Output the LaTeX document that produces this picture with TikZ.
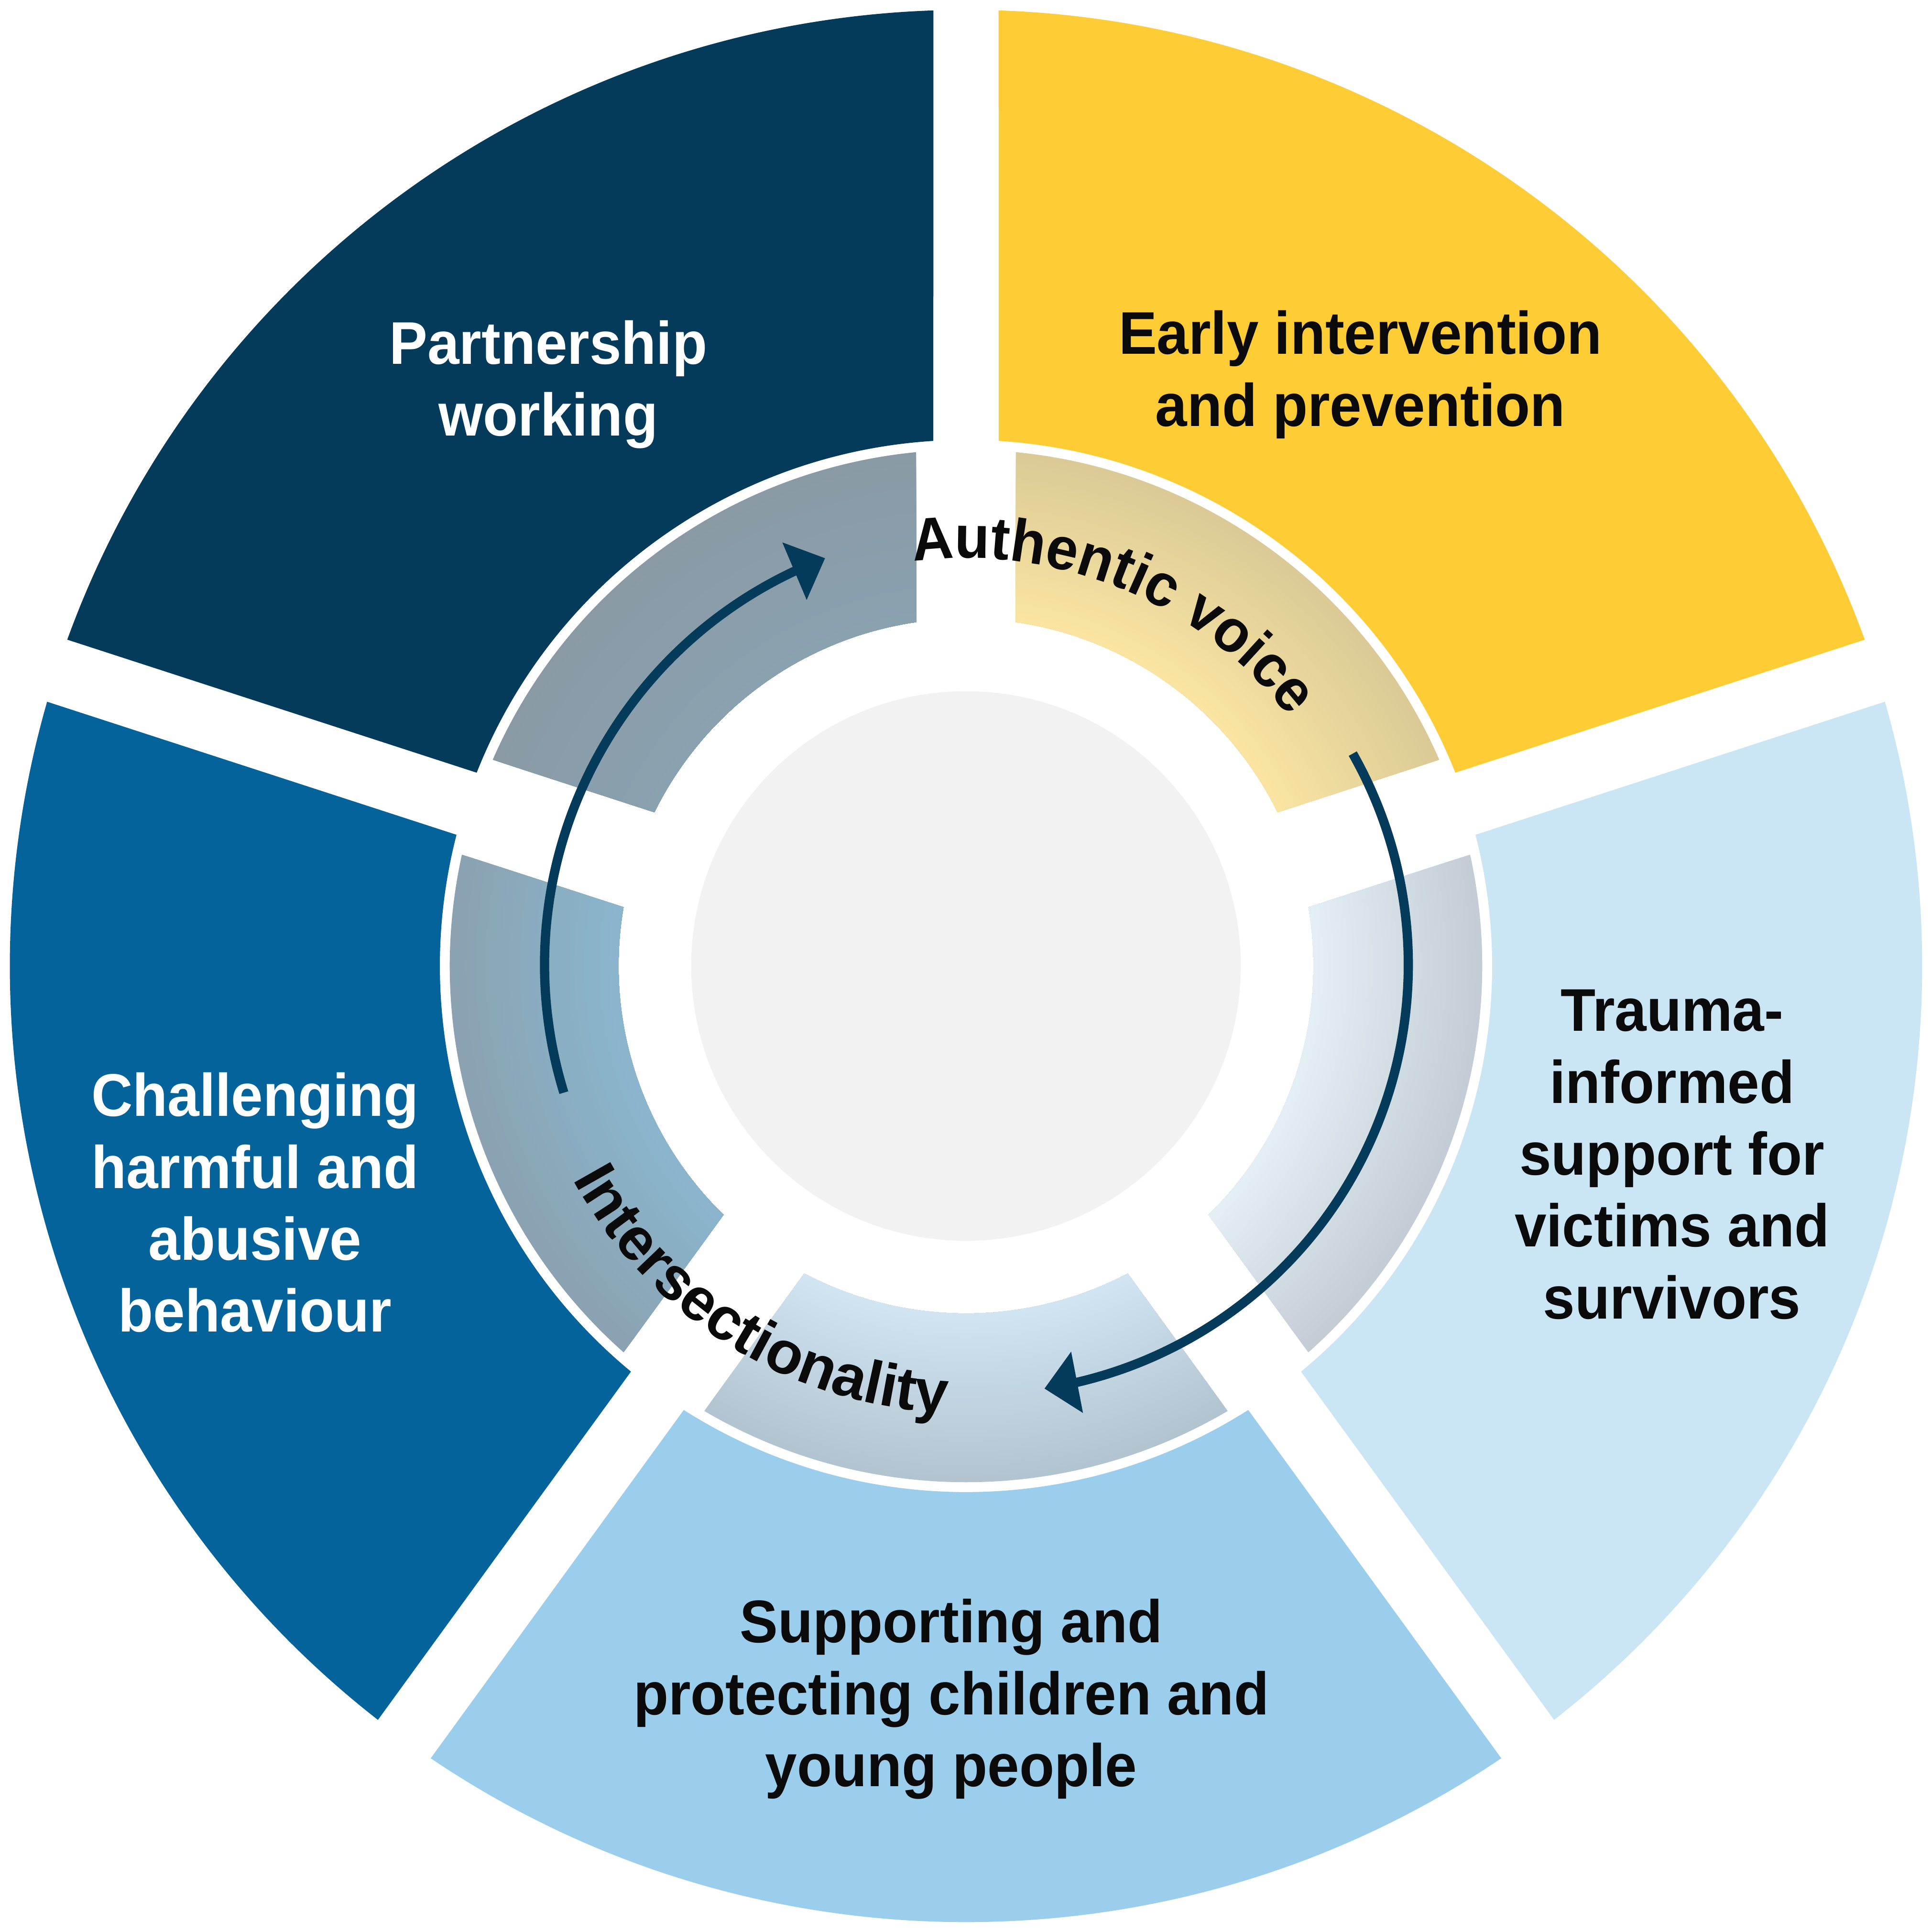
\documentclass[tikz,border=0pt]{standalone}
\usepackage{fontspec}
\setmainfont{Liberation Sans}[FakeStretch=0.95]
\newfontfamily\widefont{Liberation Sans}
\usetikzlibrary{arrows.meta,bending,calc,decorations.text}

\definecolor{navy}{HTML}{043A5A}
\definecolor{sunny}{HTML}{FECC35}
\definecolor{paleblue}{HTML}{CAE6F4}
\definecolor{skyblue}{HTML}{9ACEEC}
\definecolor{deepblue}{HTML}{03639A}
\definecolor{coregray}{HTML}{F2F2F2}
\definecolor{inktext}{HTML}{0A0A0A}
% middle ring: inner and outer tone of each piece
\definecolor{partnerin}{HTML}{8AA1AF}
\definecolor{partnerout}{HTML}{8A9AA5}
\definecolor{earlyin}{HTML}{FAE5A2}
\definecolor{earlyout}{HTML}{DBCA96}
\definecolor{traumain}{HTML}{E4EFF6}
\definecolor{traumaout}{HTML}{C4CDD5}
\definecolor{supportin}{HTML}{D1E5F2}
\definecolor{supportout}{HTML}{B2C4D0}
\definecolor{challengein}{HTML}{8AB6CE}
\definecolor{challengeout}{HTML}{8AA2B1}

\newcommand{\ringfont}{\fontsize{13.9}{16.6}\selectfont\bfseries}
\newcommand{\arcfont}{\widefont\fontsize{13.9}{16.6}\selectfont\bfseries}

\tikzset{
  piece text/.style={font=\ringfont, align=center, inner sep=0pt},
  turn arrow/.style={draw=navy, line width=0.075cm, -{Triangle[length=0.27cm, width=0.49cm]}},
  ring label/.style={decorate, decoration={text along path, text align=center,
      text color=inktext, text={#1}}}
}

\begin{document}
\begin{tikzpicture}
  \path[use as bounding box, fill=white] (-7.84,-7.84) rectangle (7.84,7.84);
  % outer sectors
  \foreach \a/\col in {90/navy, 18/sunny, -54/paleblue, -126/skyblue, 162/deepblue}
    \fill[\col] ({\a+asin(0.265/4.27)}:4.27) -- ({\a+asin(0.265/7.76)}:7.76)
      arc[start angle={\a+asin(0.265/7.76)}, end angle={\a+72-asin(0.265/7.76)}, radius=7.76]
      -- ({\a+72-asin(0.265/4.27)}:4.27)
      arc[start angle={\a+72-asin(0.265/4.27)}, end angle={\a+asin(0.265/4.27)}, radius=4.27] -- cycle;
  % middle ring, shaded from inner to outer tone
  \foreach \a/\cin/\cout in {90/partnerin/partnerout, 18/earlyin/earlyout,
      -54/traumain/traumaout, -126/supportin/supportout, 162/challengein/challengeout}{
    \begin{scope}
      \clip ({\a+asin(0.405/2.82)}:2.82) -- ({\a+asin(0.405/4.19)}:4.19)
        arc[start angle={\a+asin(0.405/4.19)}, end angle={\a+72-asin(0.405/4.19)}, radius=4.19]
        -- ({\a+72-asin(0.405/2.82)}:2.82)
        arc[start angle={\a+72-asin(0.405/2.82)}, end angle={\a+asin(0.405/2.82)}, radius=2.82] -- cycle;
      \foreach \k in {0,...,34}{
        \pgfmathsetmacro{\rr}{4.22-\k*0.04}
        \pgfmathtruncatemacro{\pp}{min(100,max(0,100*(4.19-\rr)/1.37))}
        \fill[\cin!\pp!\cout] (0,0) circle[radius=\rr];
      }
    \end{scope}
  }
  \node[circle, fill=coregray, minimum size=4.46cm, inner sep=0pt] (core) at (0,0) {};

  \node[piece text, white] (partner) at (-3.39,4.72) {Partnership\\working};
  \node[piece text, inktext] (early) at (3.20,4.80) {Early intervention\\and prevention};
  \node[piece text, inktext] (trauma) at (5.73,-1.53) {Trauma-\\informed\\support for\\victims and\\survivors};
  \node[piece text, inktext] (children) at (-0.12,-5.95) {Supporting and\\protecting children and\\young people};
  \node[piece text, white] (challenge) at (-5.77,-1.92) {Challenging\\harmful and\\abusive\\behaviour};

  \path[ring label={|\ringfont|Authentic voice}] (130:3.31) arc[start angle=130, end angle=5, radius=3.31];
  \path[ring label={|\arcfont|Intersectionality}] (173:3.63) arc[start angle=173, end angle=303, radius=3.63];

  \coordinate (hub) at (0.11,0.01);
  \coordinate (loopstart) at ($(hub)+(197.1:3.53)$);
  \coordinate (voicestart) at ($(hub)+(29.5:3.48)$);
  \draw[turn arrow] (loopstart) arc[start angle=197.1, end angle=110.8, radius=3.53];
  \draw[turn arrow] (voicestart) arc[start angle=29.5, end angle=-81.3, radius=3.48];
\end{tikzpicture}
\end{document}
